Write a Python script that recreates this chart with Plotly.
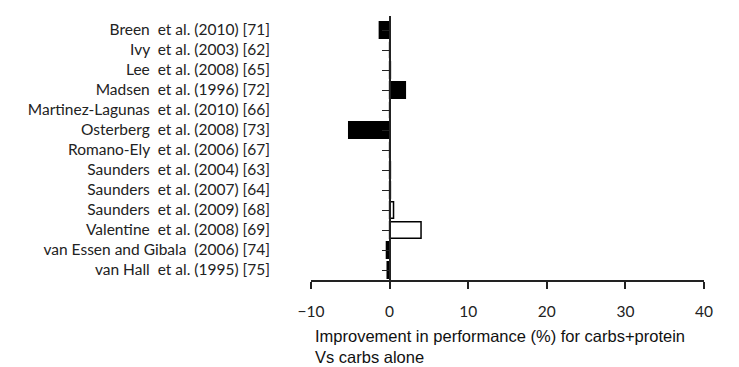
import plotly.graph_objects as go

studies = [
    "Breen  et al. (2010) [71]",
    "Ivy  et al. (2003) [62]",
    "Lee  et al. (2008) [65]",
    "Madsen  et al. (1996) [72]",
    "Martinez-Lagunas  et al. (2010) [66]",
    "Osterberg  et al. (2008) [73]",
    "Romano-Ely  et al. (2006) [67]",
    "Saunders  et al. (2004) [63]",
    "Saunders  et al. (2007) [64]",
    "Saunders  et al. (2009) [68]",
    "Valentine  et al. (2008) [69]",
    "van Essen and Gibala  (2006) [74]",
    "van Hall  et al. (1995) [75]",
]
improvement = [-1.3, 0.0, 0.1, 2.0, 0.0, -5.2, 0.0, 0.1, 0.1, 0.5, 4.0, -0.4, -0.3]
fill_colors = ["black", "black", "black", "black", "black", "black", "black",
               "black", "black", "white", "white", "black", "black"]
x_ticks = [-10, 0, 10, 20, 30, 40]

positions = list(range(len(studies)))

fig = go.Figure()
fig.add_trace(go.Bar(
    x=improvement, y=positions, orientation="h",
    marker=dict(color=fill_colors, line=dict(color="black", width=1.5)),
    width=0.82, showlegend=False,
))
# invisible trace to activate the second y axis (ticks at zero)
fig.add_trace(go.Scatter(x=[None], y=[None], yaxis="y2", showlegend=False))

yr = [12.5, -0.7]
fig.update_layout(
    width=731, height=359,
    margin=dict(l=303, r=35, t=8, b=87, autoexpand=False),
    plot_bgcolor="white", paper_bgcolor="white",
    font=dict(family="Lato", color="#222"),
    xaxis=dict(
        range=[-10, 40], tickvals=x_ticks, showgrid=False, zeroline=False,
        showline=True, linecolor="#222", linewidth=1.5, automargin=False,
        ticks="outside", ticklen=7, tickwidth=1.5, tickcolor="#222",
        tickfont=dict(family="Lato", size=15.5, color="#222"),
        ticklabelstandoff=10,
    ),
    yaxis=dict(
        range=yr, tickvals=positions, ticktext=studies, showgrid=False,
        zeroline=False, showline=False, ticks="", automargin=False,
        tickfont=dict(family="Lato", size=15.5, color="#222"),
        ticklabelstandoff=40,
    ),
    yaxis2=dict(
        range=yr, overlaying="y", anchor="free", position=0.2,
        tickvals=positions, showticklabels=False, showgrid=False,
        zeroline=False, showline=True, linecolor="#222", linewidth=1.5,
        ticks="outside", ticklen=7, tickwidth=1.2, tickcolor="#222",
        automargin=False,
    ),
    annotations=[dict(
        text="Improvement in performance (%) for carbs+protein<br>Vs carbs alone",
        xref="paper", yref="paper", x=0, y=0, xanchor="left", yanchor="top",
        xshift=2, yshift=-45, align="left", showarrow=False,
        font=dict(family="Liberation Sans, Arial", size=16.5, color="#111"),
    )],
)

fig.write_html("out.html")
